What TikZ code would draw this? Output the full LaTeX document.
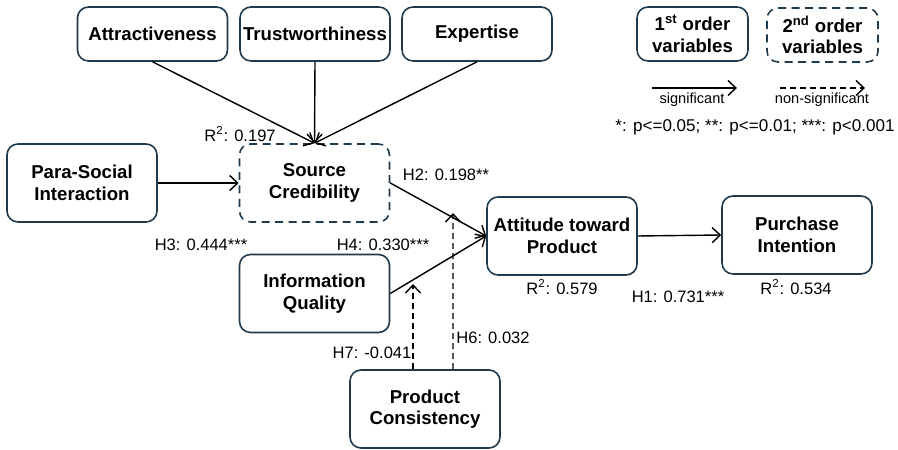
\documentclass[tikz,border=0pt]{standalone}
\usepackage{fontspec}
\setmainfont{Liberation Sans}
\usepackage{xcolor}
\usepackage{tikz}
\usetikzlibrary{arrows.meta, calc}
\definecolor{boxline}{HTML}{1F3A4D}

\begin{document}
\begin{tikzpicture}[x=1.0cm, y=1.0cm, >={Straight Barb[length=1.6mm, width=3mm]},
  font=\fontsize{9.4}{11}\selectfont,
  var/.style={draw=boxline, line width=0.9pt, rounded corners=2.2mm, align=center,
    inner sep=1pt, minimum width=3cm, minimum height=1.56cm,
    font=\fontsize{10.6}{12.3}\selectfont\bfseries},
  latent/.style={var, dash pattern=on 1.6mm off 1.1mm},
  sig/.style={->, line width=0.8pt},
  nsig/.style={->, line width=0.8pt, dash pattern=on 1.2mm off 0.8mm}]
  \useasboundingbox (0,0) rectangle (17.96,8.98);

  % First order dimensions
  \node[var, minimum height=1.08cm] (attr)  at (3.05,8.30) {Attractiveness};
  \node[var, minimum height=1.08cm] (trust) at (6.30,8.30) {Trustworthiness};
  \node[var, minimum height=1.08cm] (exp)   at (9.54,8.30) {Expertise};

  % Constructs
  \node[latent] (sc)  at (6.29,5.32)  {Source\\Credibility};
  \node[var]    (psi) at (1.64,5.32)  {Para-Social\\Interaction};
  \node[var]    (iq)  at (6.29,3.11)  {Information\\Quality};
  \node[var]    (pc)  at (8.50,0.80)  {Product\\Consistency};
  \node[var]    (atp) at (11.24,4.26) {Attitude toward\\Product};
  \node[var]    (pi)  at (15.94,4.28) {Purchase\\Intention};

  % Paths
  \draw[sig] (attr.south)  -- (sc.north);
  \draw[sig] (trust.south) -- (sc.north);
  \draw[sig] (exp.south)   -- (sc.north);
  \draw[sig] (psi.east) -- (sc.west);
  \draw[sig] (sc.east)  -- (atp.west);
  \draw[sig] (iq.east)  -- (atp.west);
  \draw[sig] (atp.east) -- (pi.west);

  % Moderation (non-significant)
  \coordinate (pc7) at ($(pc.north)+(-0.24,0)$);
  \coordinate (pc6) at ($(pc.north)+(0.56,0)$);
  \coordinate (m7) at (8.26,3.30);
  \coordinate (m6) at (9.06,4.72);
  \draw[nsig] (pc7) -- (m7);
  \draw[nsig] (pc6) -- (m6);

  % Coefficients
  \node (r2sc)  at (4.80,6.30)  {R\textsuperscript{2}: 0.197};
  \node (h2)    at (8.92,5.48)  {H2: 0.198**};
  \node (h3)    at (4.02,4.08)  {H3: 0.444***};
  \node (h4)    at (7.66,4.08)  {H4: 0.330***};
  \node (r2atp) at (11.24,3.24) {R\textsuperscript{2}: 0.579};
  \node (h1)    at (13.56,3.04) {H1: 0.731***};
  \node (r2pi)  at (15.92,3.24) {R\textsuperscript{2}: 0.534};
  \node (h7)    at (7.44,1.92)  {H7: -0.041};
  \node (h6)    at (9.86,2.22)  {H6: 0.032};

  % Legend
  \node[var, minimum width=2.22cm, minimum height=1.08cm] (first)  at (13.85,8.30) {1\textsuperscript{st} order\\variables};
  \node[latent, minimum width=2.22cm, minimum height=1.08cm] (second) at (16.45,8.28) {2\textsuperscript{nd} order\\variables};
  \coordinate (sigA) at (13.04,7.22);
  \coordinate (sigB) at (14.74,7.22);
  \coordinate (nsA) at (15.60,7.22);
  \coordinate (nsB) at (17.30,7.22);
  \draw[sig]  (sigA) -- (sigB);
  \draw[nsig] (nsA) -- (nsB);
  \node[font=\fontsize{8.3}{10}\selectfont] (sigtxt) at (13.84,6.98) {significant};
  \node[font=\fontsize{8.3}{10}\selectfont] (nstxt)  at (16.44,6.98) {non-significant};
  \node[font=\fontsize{9.7}{11}\selectfont] (pnote)  at (15.10,6.44) {*: p<=0.05; **: p<=0.01; ***: p<0.001};
\end{tikzpicture}
\end{document}
